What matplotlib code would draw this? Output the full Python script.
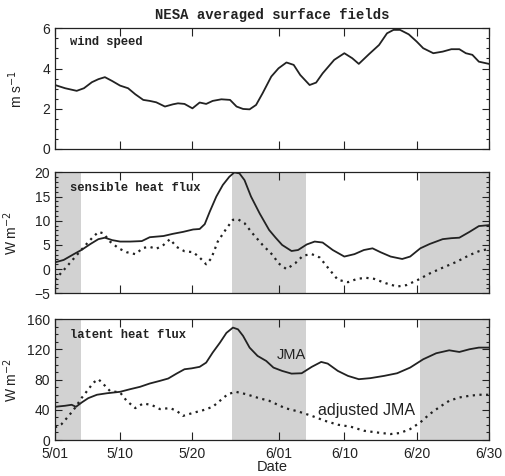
import matplotlib
matplotlib.use("Agg")
import matplotlib.pyplot as plt
from matplotlib.ticker import MultipleLocator


# ---------------------------------------------------
# DATA (days since 5/01)
# ---------------------------------------------------
wind_days = [0, 1.4, 3.0, 4.0, 5.1, 6.0, 6.9, 7.9, 9.0, 10.1,
             11.1, 12.2, 13.1, 14.0, 15.2, 16.3, 17.0, 17.9, 19.0, 20.0,
             20.9, 21.8, 23.0, 24.2, 25.1, 26.0, 26.9, 27.8, 28.7, 29.9,
             30.9, 32.0, 33.0, 33.9, 35.2, 36.1, 37.0, 38.6, 40.0, 41.1,
             42.0, 43.4, 44.8, 45.9, 46.8, 47.7, 48.9, 50.0, 50.9, 52.3,
             53.6, 54.8, 55.9, 56.8, 57.7, 58.6, 60]
wind_speed = [3.18, 3.02, 2.89, 3.02, 3.32, 3.47, 3.57, 3.38, 3.15, 3.02,
              2.72, 2.44, 2.39, 2.32, 2.11, 2.22, 2.27, 2.24, 2.02, 2.31,
              2.24, 2.39, 2.47, 2.44, 2.11, 1.99, 1.97, 2.19, 2.77, 3.60,
              4.01, 4.30, 4.18, 3.68, 3.18, 3.30, 3.76, 4.43, 4.76, 4.51,
              4.23, 4.71, 5.17, 5.75, 5.92, 5.92, 5.70, 5.34, 5.01, 4.76,
              4.84, 4.96, 4.96, 4.76, 4.68, 4.34, 4.23]

sens_days = [0, 1.2, 2.6, 3.7, 4.9, 6.0, 6.9, 7.9, 9.0, 10.4,
             12.0, 13.1, 15.0, 16.3, 17.7, 19.1, 20.0, 20.7, 21.4, 22.3,
             23.2, 24.1, 24.8, 25.5, 26.2, 27.1, 28.3, 29.6, 30.5, 31.4,
             32.7, 33.6, 34.8, 35.9, 37.0, 38.4, 40.0, 41.4, 42.7, 43.9,
             45.0, 46.4, 48.0, 49.1, 50.5, 51.8, 53.6, 54.8, 55.9, 57.3,
             58.6, 60]
sens_jma = [1.4, 1.9, 3.1, 4.0, 5.2, 6.2, 6.5, 6.0, 5.7, 5.7,
            5.8, 6.6, 6.85, 7.3, 7.7, 8.2, 8.3, 9.3, 11.9, 15.0,
            17.4, 19.1, 20.0, 19.8, 18.4, 15.0, 11.5, 8.1, 6.5, 5.0,
            3.75, 3.95, 5.1, 5.7, 5.5, 3.95, 2.6, 3.1, 3.95, 4.3,
            3.5, 2.6, 2.1, 2.6, 4.3, 5.2, 6.2, 6.4, 6.5, 7.7,
            8.9, 9.1]

sens_adj_days = [0, 1.2, 2.6, 4.0, 5.1, 6.0, 6.7, 7.6, 8.8, 9.9,
                 11.1, 12.2, 13.1, 14.0, 15.0, 15.9, 16.8, 17.9, 19.1, 20.0,
                 20.9, 21.6, 22.5, 23.7, 24.6, 25.3, 26.2, 27.3, 28.7, 30.1,
                 30.9, 32.0, 33.2, 34.3, 35.5, 36.6, 38.0, 39.1, 40.5, 41.8,
                 43.0, 44.1, 45.7, 47.3, 48.6, 50.2, 51.8, 53.6, 55.5, 57.3,
                 58.6, 60]
sens_adj = [-2.2, -0.2, 2.2, 4.6, 6.4, 7.7, 7.4, 5.7, 4.3, 3.5,
            3.1, 4.4, 4.6, 4.2, 5.0, 6.2, 4.6, 3.7, 3.5, 2.4,
            1.0, 2.2, 5.7, 8.4, 10.2, 10.3, 9.5, 7.4, 5.0, 2.9,
            1.2, 0.0, 1.2, 2.8, 3.1, 2.4, -0.2, -2.2, -2.7, -2.0,
            -1.8, -2.0, -2.9, -3.6, -3.3, -2.2, -0.9, 0.3, 1.5, 2.9,
            3.7, 4.2]

lat_days = [0, 1.4, 2.3, 2.9, 3.7, 4.6, 5.8, 7.2, 9.0, 10.4,
            11.75, 13.1, 14.5, 15.65, 16.8, 17.9, 18.9, 20.0, 20.9, 21.8,
            22.8, 23.7, 24.6, 25.3, 26.0, 26.9, 28.0, 29.2, 30.2, 31.4,
            32.7, 34.1, 35.5, 36.8, 37.7, 39.1, 40.5, 42.0, 43.6, 45.5,
            47.3, 49.1, 50.9, 52.7, 54.5, 55.9, 57.3, 58.6, 60]
lat_jma = [44, 45.4, 46.7, 44, 49.8, 55.5, 60, 62, 63.9, 67.4,
           70.5, 74.9, 78.4, 81.5, 88, 93.8, 95, 97, 102.6, 115.9,
           129, 142, 149, 146.7, 138, 122.5, 111.5, 104.8, 96, 91.6,
           88, 88.5, 97, 103.5, 101.3, 91.6, 85, 80.6, 82, 85,
           88.5, 96, 107, 115, 118.9, 116.7, 120.3, 122.5, 122.5]

lat_adj_days = [0, 0.9, 1.9, 2.8, 3.7, 4.6, 5.3, 6.0, 6.7, 7.6,
                9.0, 9.9, 11.1, 12.2, 13.4, 14.5, 15.9, 16.8, 17.7, 19.1,
                20.5, 21.8, 22.8, 23.9, 25.0, 26.4, 28.2, 29.6, 31.8, 33.6,
                35.5, 37.3, 39.1, 40.9, 42.7, 44.5, 46.4, 47.7, 49.1, 50.5,
                51.8, 53.2, 54.5, 55.9, 57.3, 58.6, 60]
lat_adj = [16.7, 21, 32, 43, 56, 67, 76, 80.6, 74, 65,
           63, 52, 42.3, 48.5, 46.3, 41, 42.3, 38.8, 32, 36,
           39.6, 44, 52, 60.8, 63.9, 60.8, 55.5, 52, 42.3, 37.9,
           32, 25.5, 20.3, 17.6, 12.3, 10, 7.9, 9.3, 14.5, 23.3,
           34.4, 44, 52, 56.4, 58.6, 60, 60]

shade_periods = [(0, 3.6), (24.5, 34.7), (50.5, 60)]

date_ticks = [0, 9, 19, 31, 40, 50, 60]
date_labels = ["5/01", "5/10", "5/20", "6/01", "6/10", "6/20", "6/30"]


# ---------------------------------------------------
# PLOT
# ---------------------------------------------------
plt.rcParams["font.family"] = ["Liberation Sans", "DejaVu Sans"]
INK = "#222222"
LABEL_FONT = dict(family="Liberation Mono", weight="bold", size=8.7, color=INK)
DOTS = (0, (1, 2))

fig = plt.figure(figsize=(5.06, 4.76), dpi=100)
ax_w = fig.add_axes([0.1087, 0.687, 0.8577, 0.2536])
ax_s = fig.add_axes([0.1087, 0.3838, 0.8577, 0.2540])
ax_l = fig.add_axes([0.1087, 0.0756, 0.8577, 0.2536])


def style_axis(ax, ylim, major, minor, shade=True):
    ax.set_xlim(0, 60)
    ax.set_ylim(*ylim)
    ax.set_xticks(date_ticks)
    ax.yaxis.set_major_locator(MultipleLocator(major))
    ax.yaxis.set_minor_locator(MultipleLocator(minor))
    ax.tick_params(which="both", direction="in", top=True, right=True,
                   colors=INK, labelsize=10, width=0.8)
    ax.tick_params(which="major", length=5)
    ax.tick_params(which="minor", length=2.5)
    ax.tick_params(axis="x", which="major", length=6, pad=5)
    for sp in ax.spines.values():
        sp.set_color(INK)
        sp.set_linewidth(0.9)
    if shade:
        for start, end in shade_periods:
            ax.axvspan(start, end, color="#d2d2d2", lw=0, zorder=0)


style_axis(ax_w, (0, 6), 2, 0.5, shade=False)
ax_w.plot(wind_days, wind_speed, color=INK, lw=1.3)
ax_w.set_xticklabels([])
ax_w.text(0.035, 0.885, "wind speed", transform=ax_w.transAxes,
          va="center", **LABEL_FONT)
ax_w.set_ylabel("m s$^{-1}$", fontsize=10, color=INK)
ax_w.yaxis.set_label_coords(-0.068, 0.5)
ax_w.set_title("NESA averaged surface fields", family="Liberation Mono",
               weight="bold", fontsize=10, color=INK, pad=7)

style_axis(ax_s, (-5, 20), 5, 1)
ax_s.plot(sens_days, sens_jma, color=INK, lw=1.3)
ax_s.plot(sens_adj_days, sens_adj, color=INK, lw=1.6, ls=DOTS)
ax_s.set_xticklabels([])
ax_s.text(0.035, 0.87, "sensible heat flux", transform=ax_s.transAxes,
          va="center", **LABEL_FONT)
ax_s.set_ylabel("W m$^{-2}$", fontsize=10, color=INK)
ax_s.yaxis.set_label_coords(-0.08, 0.5)

style_axis(ax_l, (0, 160), 40, 10)
ax_l.plot(lat_days, lat_jma, color=INK, lw=1.3)
ax_l.plot(lat_adj_days, lat_adj, color=INK, lw=1.6, ls=DOTS)
ax_l.set_xticklabels(date_labels)
ax_l.text(0.035, 0.87, "latent heat flux", transform=ax_l.transAxes,
          va="center", **LABEL_FONT)
ax_l.text(32.7, 113, "JMA", ha="center", va="center", fontsize=10.5, color=INK)
ax_l.text(43, 39, "adjusted JMA", ha="center", va="center", fontsize=11.5,
          color=INK)
ax_l.set_ylabel("W m$^{-2}$", fontsize=10, color=INK)
ax_l.yaxis.set_label_coords(-0.08, 0.5)
ax_l.set_xlabel("Date", fontsize=10.5, color=INK)
ax_l.xaxis.set_label_coords(0.5, -0.165)
ax_l.xaxis.label.set_va("top")

fig.savefig("out.png", dpi=100)
